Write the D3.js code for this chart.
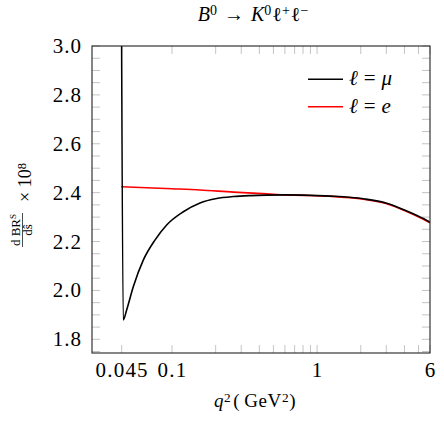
<!DOCTYPE html>
<html><head><meta charset="utf-8">
<script src="https://cdn.jsdelivr.net/npm/d3@7"></script>
<style>
body{margin:0;background:#fff}
svg text{font-family:'Liberation Serif','DejaVu Serif',serif;fill:#000}
</style>
</head><body>
<svg id="c" width="444" height="423"></svg>
<script>
// ---- data ----
const muQ = [0.04466, 0.0461, 0.0487, 0.0541, 0.0634, 0.0763, 0.0919, 0.1197, 0.156, 0.203, 0.265, 0.35, 0.45, 0.6, 0.8, 1.23, 2.09, 3.02, 4.15, 5.4, 6.0];
const muV = [3.5, 1.879, 1.920, 2.015, 2.124, 2.206, 2.268, 2.322, 2.358, 2.376, 2.384, 2.388, 2.390, 2.391, 2.390, 2.386, 2.375, 2.357, 2.325, 2.294, 2.279];
const eQ = [0.04466, 0.1, 0.156, 0.265, 0.45, 0.6, 0.8, 1.23, 2.09, 3.02, 4.15, 5.4, 6.0];
const eV = [2.424, 2.416, 2.411, 2.402, 2.395, 2.391, 2.389, 2.385, 2.373, 2.355, 2.323, 2.291, 2.277];
const xTickVals = [0.045, 0.1, 1, 6];
const xTickLabels = ["0.045", "0.1", "1", "6"];
const xMinorVals = [0.2, 0.3, 0.4, 0.5, 0.6, 0.7, 0.8, 0.9, 2, 3, 4, 5];
const yTickVals = [1.8, 2.0, 2.2, 2.4, 2.6, 2.8, 3.0];
const yMinorVals = [1.75,1.85,1.9,1.95,2.05,2.1,2.15,2.25,2.3,2.35,2.45,2.5,2.55,2.65,2.7,2.75,2.85,2.9,2.95];
const seriesSym = ["\u03bc", "e"];
const seriesColors = ["#000000", "#ff0000"];

// ---- layout ----
const L = 92, R = 430, T = 46, B = 353;
const svg = d3.select("#c");
const x = d3.scaleLog().domain([0.0281, 6.0]).range([L, R]);
const y = d3.scaleLinear().domain([1.744, 3.0]).range([B, T]);

svg.append("defs").append("clipPath").attr("id","clip")
  .append("rect").attr("x",L).attr("y",T).attr("width",R-L).attr("height",B-T);

// ticks (inside, both sides)
const tickCol = "#c4c4c4";
const gT = svg.append("g").attr("stroke", tickCol).attr("stroke-width", 1);
function xt(v, len){
  gT.append("line").attr("x1",x(v)).attr("x2",x(v)).attr("y1",B).attr("y2",B-len);
  gT.append("line").attr("x1",x(v)).attr("x2",x(v)).attr("y1",T).attr("y2",T+len);
}
function yt(v, len){
  gT.append("line").attr("y1",y(v)).attr("y2",y(v)).attr("x1",L).attr("x2",L+len);
  gT.append("line").attr("y1",y(v)).attr("y2",y(v)).attr("x1",R).attr("x2",R-len);
}
xTickVals.forEach(v=>xt(v,8)); xMinorVals.forEach(v=>xt(v,8));
yTickVals.forEach(v=>yt(v,8)); yMinorVals.forEach(v=>yt(v,8));

// curves
const gC = svg.append("g").attr("clip-path","url(#clip)");
const lineC = d3.line().x(d=>x(d[0])).y(d=>y(d[1])).curve(d3.curveMonotoneX);
gC.append("path").datum(eQ.map((q,i)=>[q,eV[i]]))
  .attr("d",lineC).attr("fill","none").attr("stroke",seriesColors[1]).attr("stroke-width",1.6);
gC.append("path").datum(muQ.map((q,i)=>[q,muV[i]]))
  .attr("d",lineC).attr("fill","none").attr("stroke",seriesColors[0]).attr("stroke-width",1.6);

// frame
svg.append("rect").attr("x",L).attr("y",T).attr("width",R-L).attr("height",B-T)
  .attr("fill","none").attr("stroke","#222").attr("stroke-width",1.1);

function txt(){ return svg.append("text"); }

// tick labels
xTickVals.forEach((v,i)=>{
  txt().attr("x",x(v)+0.5).attr("y",377).attr("text-anchor","middle")
    .attr("font-size",21).attr("letter-spacing",1.2).text(xTickLabels[i]);
});
yTickVals.forEach(v=>{
  txt().attr("x",82).attr("y",y(v)+7).attr("text-anchor","end")
    .attr("font-size",21).attr("letter-spacing",1).text(d3.format(".1f")(v));
});

// rich text helper
function rich(sel, segs, size){
  segs.forEach(s=>{
    const t = sel.append("tspan").text(s.t);
    if (s.it) t.attr("font-style","italic");
    if (s.dx) t.attr("dx", s.dx);
    if (s.sup){ t.attr("font-size", size*0.7).attr("baseline-shift","40%"); }
  });
}

// title
const title = txt().attr("x",253).attr("y",21).attr("text-anchor","middle").attr("font-size",20);
rich(title, [{t:"B",it:1},{t:"0",sup:1},{t:"\u2192",dx:7},{t:"K",it:1,dx:7},{t:"0",sup:1},{t:"\u2113",dx:1},{t:"+",sup:1},{t:"\u2113",dx:1},{t:"\u2212",sup:1}], 20);

// x label
const xl = txt().attr("x",255).attr("y",407).attr("text-anchor","middle").attr("font-size",19).attr("letter-spacing",0.6);
rich(xl, [{t:"q",it:1},{t:"2",sup:1},{t:"(",dx:2},{t:"GeV",dx:4},{t:"2",sup:1},{t:")"}], 19);

// y label
const gy = svg.append("g").attr("transform","translate(22.5,204) rotate(-90)");
const num = gy.append("text").attr("x",-26).attr("y",-3).attr("text-anchor","middle").attr("font-size",13);
rich(num, [{t:"d BR"},{t:"S",sup:1}], 13);
gy.append("text").attr("x",-26).attr("y",9).attr("text-anchor","middle").attr("font-size",13).text("d\u015d");
gy.append("line").attr("x1",-43).attr("x2",-9).attr("y1",0).attr("y2",0).attr("stroke","#000").attr("stroke-width",0.7);
const tx = gy.append("text").attr("x",2).attr("y",8).attr("font-size",18);
rich(tx, [{t:"\u00d7 10"},{t:"8",sup:1}], 18);

// legend
const legY = [79.3, 106.7];
seriesSym.forEach((s,i)=>{
  svg.append("line").attr("x1",308).attr("x2",343).attr("y1",legY[i]).attr("y2",legY[i])
    .attr("stroke",seriesColors[i]).attr("stroke-width",1.6);
  const t = txt().attr("x",349).attr("y",legY[i]+6).attr("font-size",21);
  rich(t, [{t:"\u2113",it:1},{t:"=",dx:6},{t:s,it:1,dx:6}], 21);
});
</script>
</body></html>
